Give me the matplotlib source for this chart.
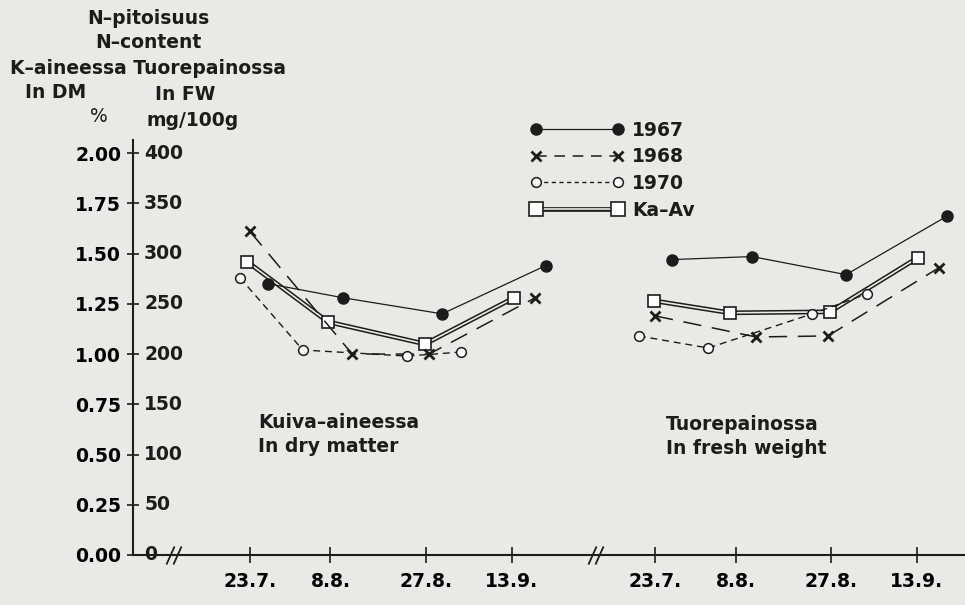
import matplotlib
matplotlib.use('Agg')
import matplotlib.pyplot as plt
from matplotlib.legend_handler import HandlerTuple

# sampling dates as day of year: 23.7.=204, 8.8.=220, 27.8.=239, 13.9.=256
tick_days = [204, 220, 239, 256]
tick_labels = ['23.7.', '8.8.', '27.8.', '13.9.']

# dry matter, N % of DM
dm_1967_days = [207.6, 222.5, 242.2, 262.8]
dm_1967 = [1.35, 1.28, 1.20, 1.44]
dm_1968_days = [204.0, 224.3, 239.6, 260.7]
dm_1968 = [1.61, 1.00, 1.00, 1.28]
dm_1970_days = [202.0, 214.5, 235.2, 246.0]
dm_1970 = [1.38, 1.02, 0.99, 1.01]
dm_avg_days = [203.4, 219.5, 238.8, 256.5]
dm_avg = [1.46, 1.16, 1.05, 1.28]

# fresh weight, N mg/100g
fw_1967_days = [207.3, 223.2, 241.9, 261.9]
fw_1967 = [294, 297, 279, 337]
fw_1968_days = [203.9, 224.0, 238.3, 260.4]
fw_1968 = [238, 217, 218, 286]
fw_1970_days = [200.7, 214.5, 235.2, 246.1]
fw_1970 = [218, 206, 240, 260]
fw_avg_days = [203.7, 218.8, 238.7, 256.2]
fw_avg = [253, 241, 242, 296]

pct_ticks = [0.0, 0.25, 0.5, 0.75, 1.0, 1.25, 1.5, 1.75, 2.0]
mg_ticks = [0, 50, 100, 150, 200, 250, 300, 350, 400]

bg = '#e9e9e7'
ink = '#1c1c1c'
shift = 80.6      # right panel offset along x (days)
breaks = [189.1, 273.0]
fs = 13.5

plt.rcParams['font.family'] = 'DejaVu Sans'
plt.rcParams['font.weight'] = 'bold'
plt.rcParams['font.size'] = fs
plt.rcParams['text.color'] = ink

fig = plt.figure(figsize=(9.65, 6.05), dpi=100, facecolor=bg)
ax = fig.add_axes([133 / 965, 50 / 605, 832 / 965, 415 / 605])
ax.set_facecolor(bg)
ax.set_xlim(180.74, 346.15)
ax.set_ylim(0, 2.065)

for s in ['top', 'right']:
    ax.spines[s].set_visible(False)
for s in ['left', 'bottom']:
    ax.spines[s].set_color(ink)
    ax.spines[s].set_linewidth(1.5)

# x ticks for both panels
xt = tick_days + [d + shift for d in tick_days]
ax.set_xticks(xt)
ax.set_xticklabels(tick_labels * 2)
ax.tick_params(axis='x', direction='inout', length=11, width=1.2, color=ink,
               pad=7, labelsize=fs)

ax.set_yticks(pct_ticks)
ax.set_yticklabels(['%.2f' % v for v in pct_ticks])
ax.tick_params(axis='y', direction='inout', length=9, width=1.2, color=ink,
               pad=4, labelsize=fs)
for v, m in zip(pct_ticks, mg_ticks):
    ax.annotate(str(m), xy=(0, v), xycoords=('axes fraction', 'data'),
                xytext=(8, 0), textcoords='offset points', va='center',
                ha='left', fontsize=fs, fontweight='bold', color=ink)

# axis breaks
for b in breaks:
    ax.plot([b - 1.0, b + 0.3], [0, 0], ls='none', marker=[(-0.45, -1), (0.45, 1)],
            ms=13, mew=1.3, mec=ink, clip_on=False, zorder=5)


def draw(days, vals, off, scale):
    x = [d + off for d in days]
    y = [v * scale for v in vals]
    return x, y


panels = [
    (0, 1.0, dm_1967_days, dm_1967, dm_1968_days, dm_1968, dm_1970_days, dm_1970,
     dm_avg_days, dm_avg),
    (shift, 1 / 200, fw_1967_days, fw_1967, fw_1968_days, fw_1968, fw_1970_days,
     fw_1970, fw_avg_days, fw_avg),
]

for off, sc, d67, v67, d68, v68, d70, v70, dav, vav in panels:
    x, y = draw(dav, vav, off, sc)
    ax.plot(x, y, color=ink, lw=3.4, solid_capstyle='butt', zorder=3)
    ax.plot(x, y, color=bg, lw=1.2, zorder=3)
    ax.plot(x, y, ls='none', marker='s', ms=9, mfc='white', mec=ink, mew=1.2, zorder=4)
    x, y = draw(d67, v67, off, sc)
    ax.plot(x, y, color=ink, lw=0.9, marker='o', ms=8, mfc=ink, mec=ink, zorder=4)
    x, y = draw(d68, v68, off, sc)
    ax.plot(x, y, color=ink, lw=1.1, dashes=(12, 7), marker='x', ms=6.5, mew=2,
            mec=ink, zorder=4)
    x, y = draw(d70, v70, off, sc)
    ax.plot(x, y, color=ink, lw=1.0, dashes=(5, 3.5), marker='o', ms=7, mfc='white',
            mec=ink, mew=1.1, zorder=4)

# legend
h67, = ax.plot([], [], color=ink, lw=0.9, marker='o', ms=8, mfc=ink, mec=ink)
h68, = ax.plot([], [], color=ink, lw=1.1, dashes=(7, 5), marker='x', ms=6.5,
               mew=2, mec=ink)
h70, = ax.plot([], [], color=ink, lw=1.0, dashes=(3, 2.5), marker='o', ms=7,
               mfc='white', mec=ink, mew=1.1)
ha1, = ax.plot([], [], color=ink, lw=3.4, solid_capstyle='butt')
ha2, = ax.plot([], [], color=bg, lw=1.2)
ha3, = ax.plot([], [], ls='none', marker='s', ms=10, mfc='white', mec=ink, mew=1.2)
ax.legend([h67, h68, h70, (ha1, ha2, ha3)], ['1967', '1968', '1970', 'Ka\u2013Av'],
          handler_map={tuple: HandlerTuple(ndivide=1, pad=0)}, numpoints=2,
          frameon=False, loc='upper left', bbox_to_anchor=(530 / 965, 1 - 121 / 605),
          bbox_transform=fig.transFigure, borderpad=0, borderaxespad=0,
          handlelength=5.0, handletextpad=0.45, labelspacing=0.40, fontsize=fs)

# panel captions
ax.text(258 / 965, 1 - 423 / 605, 'Kuiva\u2013aineessa', transform=fig.transFigure,
        va='center', ha='left')
ax.text(258 / 965, 1 - 447 / 605, 'In dry matter', transform=fig.transFigure,
        va='center', ha='left')
ax.text(666 / 965, 1 - 424 / 605, 'Tuorepainossa', transform=fig.transFigure,
        va='center', ha='left')
ax.text(666 / 965, 1 - 448 / 605, 'In fresh weight', transform=fig.transFigure,
        va='center', ha='left')

# axis header
fig.text(148 / 965, 1 - 18 / 605, 'N\u2013pitoisuus', ha='center', va='center')
fig.text(148 / 965, 1 - 42 / 605, 'N\u2013content', ha='center', va='center')
fig.text(148 / 965, 1 - 68 / 605, 'K\u2013aineessa Tuorepainossa', ha='center', va='center')
fig.text(56 / 965, 1 - 93 / 605, 'In DM', ha='center', va='center')
fig.text(185 / 965, 1 - 94 / 605, 'In FW', ha='center', va='center')
fig.text(99 / 965, 1 - 117 / 605, '%', ha='center', va='center', fontweight='normal')
fig.text(193 / 965, 1 - 120 / 605, 'mg/100g', ha='center', va='center')

fig.savefig('out.png', dpi=100, facecolor=bg)
